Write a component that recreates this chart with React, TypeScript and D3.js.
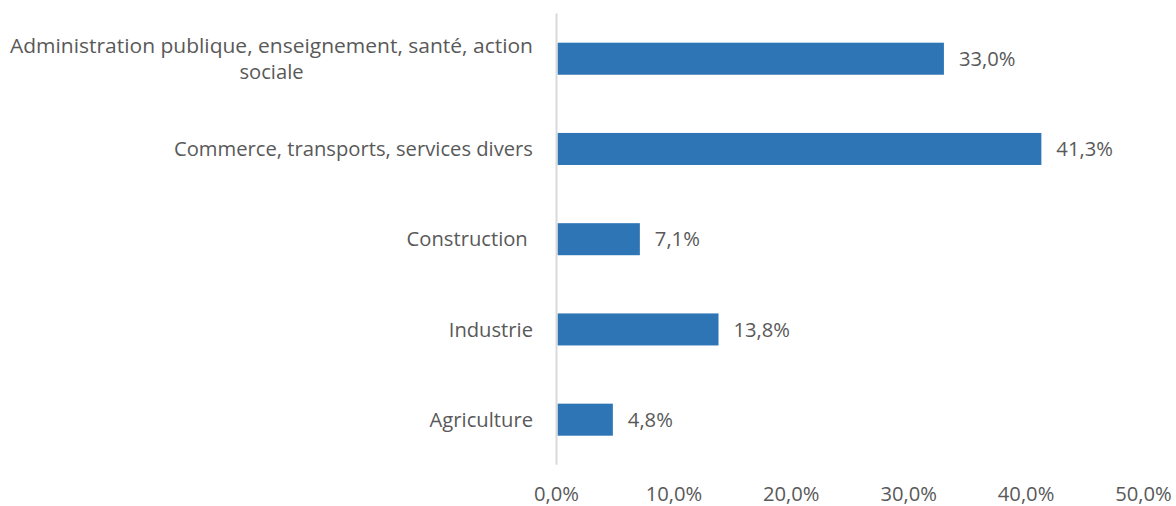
import React from "react";
import * as d3 from "d3";

const categories = [
  "Administration publique, enseignement, santé, action sociale",
  "Commerce, transports, services divers",
  "Construction ",
  "Industrie",
  "Agriculture",
];
const values = [33.0, 41.3, 7.1, 13.8, 4.8];
const ticks = [0, 10, 20, 30, 40, 50];

const W = 1176;
const H = 506;
const FONT = "'Open Sans', sans-serif";
const FS = 20.2;
const TEXT = "#595959";

function wrap(label: string): string[] {
  if (label.startsWith("Administration")) {
    return ["Administration publique, enseignement, santé, action", "sociale"];
  }
  return [label];
}

export default function App() {
  const x = d3.scaleLinear().domain([0, 50]).range([556.5, 1143.5]);
  const y = d3
    .scaleBand<string>()
    .domain(categories)
    .range([13.6, 464.8])
    .paddingInner(0.645)
    .paddingOuter(0.3225);
  const fmt = (v: number) => v.toFixed(1).replace(".", ",") + "%";
  const bh = y.bandwidth();

  return (
    <svg
      width={W}
      height={H}
      style={{ position: "absolute", left: 0, top: 0, background: "#fff" }}
      fontFamily={FONT}
      fontSize={FS}
    >
      {categories.map((c, i) => {
        const cy = (y(c) as number) + bh / 2;
        const lines = wrap(c);
        const lh = 26;
        const blockW = lines.length > 1 ? 523 : 0;
        return (
          <g key={c}>
            <rect
              x={x(0) + 1}
              y={y(c)}
              width={x(values[i]) - x(0) - 1}
              height={bh}
              fill="#2e75b6"
            />
            <text
              x={x(values[i]) + 15}
              y={cy}
              dy="0.35em"
              fill={TEXT}
            >
              {fmt(values[i])}
            </text>
            {lines.length === 1 ? (
              <text
                x={533}
                y={cy}
                dy="0.35em"
                textAnchor="end"
                fill={TEXT}
                style={{ whiteSpace: "pre" }}
              >
                {c}
              </text>
            ) : (
              lines.map((l, k) => (
                <text
                  key={k}
                  x={533 - blockW / 2}
                  y={cy + (k - (lines.length - 1) / 2) * lh}
                  dy="0.35em"
                  textAnchor="middle"
                  fill={TEXT}
                  textLength={k === 0 ? blockW : undefined}
                  lengthAdjust="spacingAndGlyphs"
                >
                  {l}
                </text>
              ))
            )}
          </g>
        );
      })}
      <line x1={x(0)} x2={x(0)} y1={13.6} y2={464.8} stroke="#d9d9d9" strokeWidth={2} />
      {ticks.map((t) => (
        <text key={t} x={x(t)} y={494} dy="0.35em" textAnchor="middle" fill={TEXT}>
          {fmt(t)}
        </text>
      ))}
    </svg>
  );
}
